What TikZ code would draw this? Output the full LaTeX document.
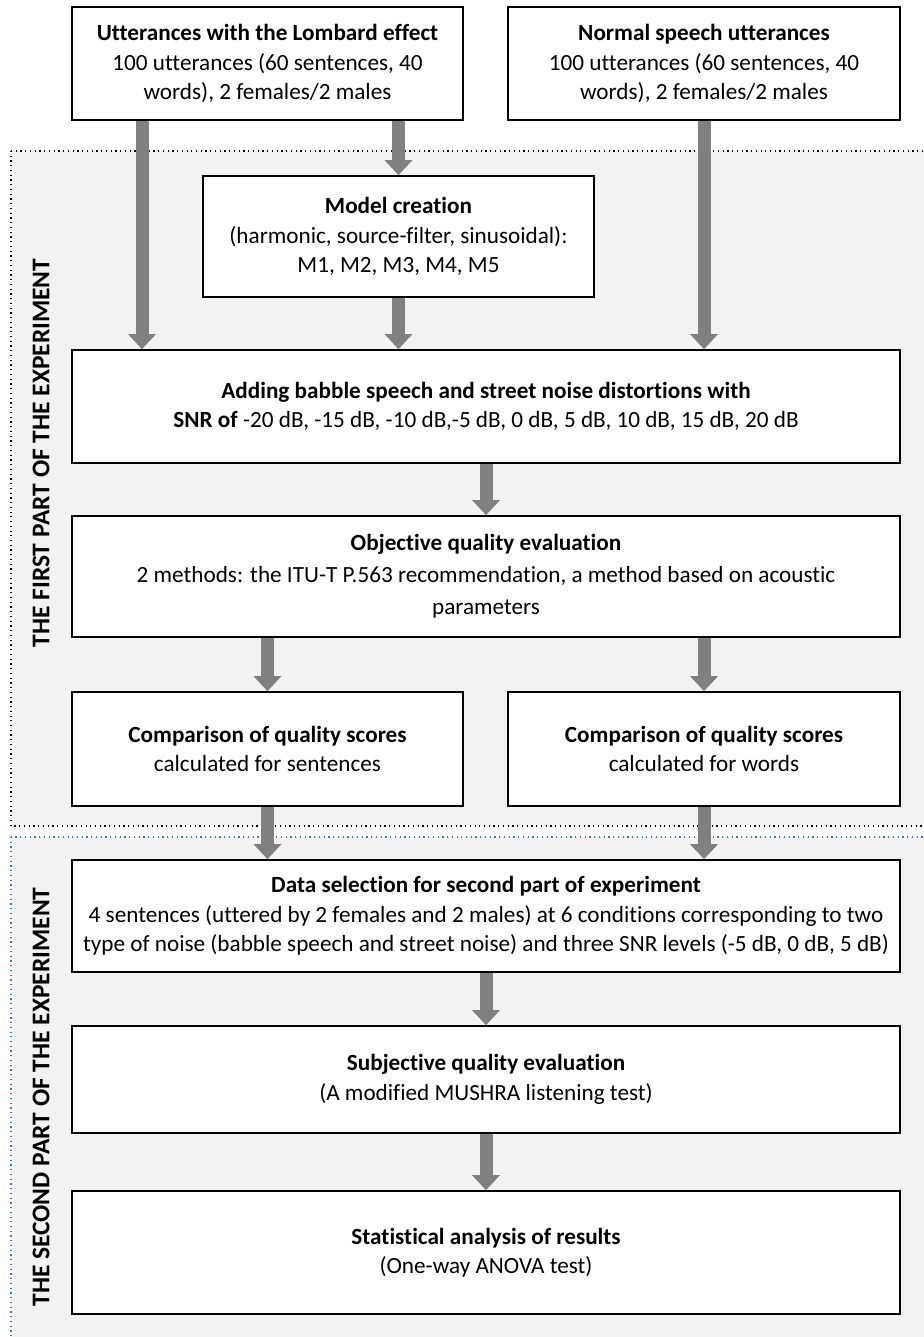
\documentclass[tikz,border=0pt]{standalone}
\usepackage{fontspec}
\setmainfont{Carlito}[Ligatures=NoCommon]
\usepackage{tikz}
\usetikzlibrary{arrows.meta,backgrounds}
\definecolor{arrowgray}{RGB}{128,128,128}
\definecolor{areagray}{RGB}{242,242,242}
\definecolor{partblue}{RGB}{68,114,196}

\begin{document}
\begin{tikzpicture}[x=0.02cm, y=-0.02cm,
		stageBox/.style={draw=black, line width=1pt, fill=white, align=center, inner sep=2pt, font=\fontsize{13.2}{16.8}\selectfont},
		flowArrow/.style={line width=0.26cm, color=arrowgray, -{Triangle[width=0.56cm, length=0.3cm, line width=0pt]}},
		partArea/.style={fill=areagray, line width=0.7pt, dotted},
		partLabel/.style={rotate=90, font=\bfseries\fontsize{14.5}{16}\selectfont}
		]
	\useasboundingbox (0,0) rectangle (923,1337);
	
	% input data
	\node [stageBox, minimum width=7.82cm, minimum height=2.26cm] (lomb) at (267.5,63.5) {\textbf{Utterances with the Lombard effect}\\100 utterances (60 sentences, 40\\words), 2 females/2 males};
	\node [stageBox, minimum width=7.84cm, minimum height=2.26cm] (normal) at (704,63.5) {\textbf{Normal speech utterances}\\100 utterances (60 sentences, 40\\words), 2 females/2 males};
	
	% first part
	\node [stageBox, minimum width=7.82cm, minimum height=2.42cm] (model) at (398.5,236.5) {\textbf{Model creation}\\(harmonic, source-filter, sinusoidal):\\M1, M2, M3, M4, M5};
	\node [stageBox, minimum width=16.56cm, minimum height=2.26cm] (adding) at (486,406.5) {\textbf{Adding babble speech and street noise distortions with}\\\textbf{SNR of} -20 dB, -15 dB, -10 dB,-5 dB, 0 dB, 5 dB, 10 dB, 15 dB, 20 dB};
	\node [stageBox, minimum width=16.56cm, minimum height=2.42cm] (objective) at (486,576.5) {\textbf{Objective quality evaluation}\\[1.5pt]2 methods: the ITU-T P.563 recommendation, a method based on acoustic\\[1.5pt]parameters};
	\node [stageBox, minimum width=7.82cm, minimum height=2.28cm] (compS) at (267.5,749) {\textbf{Comparison of quality scores}\\calculated for sentences};
	\node [stageBox, minimum width=7.84cm, minimum height=2.28cm] (compW) at (704,749) {\textbf{Comparison of quality scores}\\calculated for words};
	
	% second part
	\node [stageBox, minimum width=16.56cm, minimum height=2.24cm] (data) at (486,916) {\textbf{Data selection for second part of experiment}\\4 sentences (uttered by 2 females and 2 males) at 6 conditions corresponding to two\\type of noise (babble speech and street noise) and three SNR levels (-5 dB, 0 dB, 5 dB)};
	\node [stageBox, minimum width=16.56cm, minimum height=2.14cm] (subj) at (486,1079.5) {\textbf{Subjective quality evaluation}\\(A modified MUSHRA listening test)};
	\node [stageBox, minimum width=16.56cm, minimum height=2.46cm] (stat) at (486,1252.5) {\textbf{Statistical analysis of results}\\(One-way ANOVA test)};
	
	\node [partLabel] (part1) at (41,453) {THE FIRST PART OF THE EXPERIMENT};
	\node [partLabel] (part2) at (41,1097) {THE SECOND PART OF THE EXPERIMENT};
	
	\coordinate (lombLeft) at (142,0);
	
	\begin{pgfonlayer}{background}
	\draw [partArea, draw=black] (11,151) rectangle (940,826);
	\draw [partArea, draw=partblue] (11,837) rectangle (940,1360);
	
	\draw [flowArrow] (lomb.south -| lombLeft) -- (adding.north -| lombLeft);
	\draw [flowArrow] (lomb.south -| model.north) -- (model.north);
	\draw [flowArrow] (model.south) -- (adding.north -| model.south);
	\draw [flowArrow] (normal.south) -- (adding.north -| normal.south);
	\draw [flowArrow] (adding.south) -- (objective.north);
	\draw [flowArrow] (objective.south -| compS.north) -- (compS.north);
	\draw [flowArrow] (objective.south -| compW.north) -- (compW.north);
	\draw [flowArrow] (compS.south) -- (data.north -| compS.south);
	\draw [flowArrow] (compW.south) -- (data.north -| compW.south);
	\draw [flowArrow] (data.south) -- (subj.north);
	\draw [flowArrow] (subj.south) -- (stat.north);
	\end{pgfonlayer}
\end{tikzpicture}
\end{document}
